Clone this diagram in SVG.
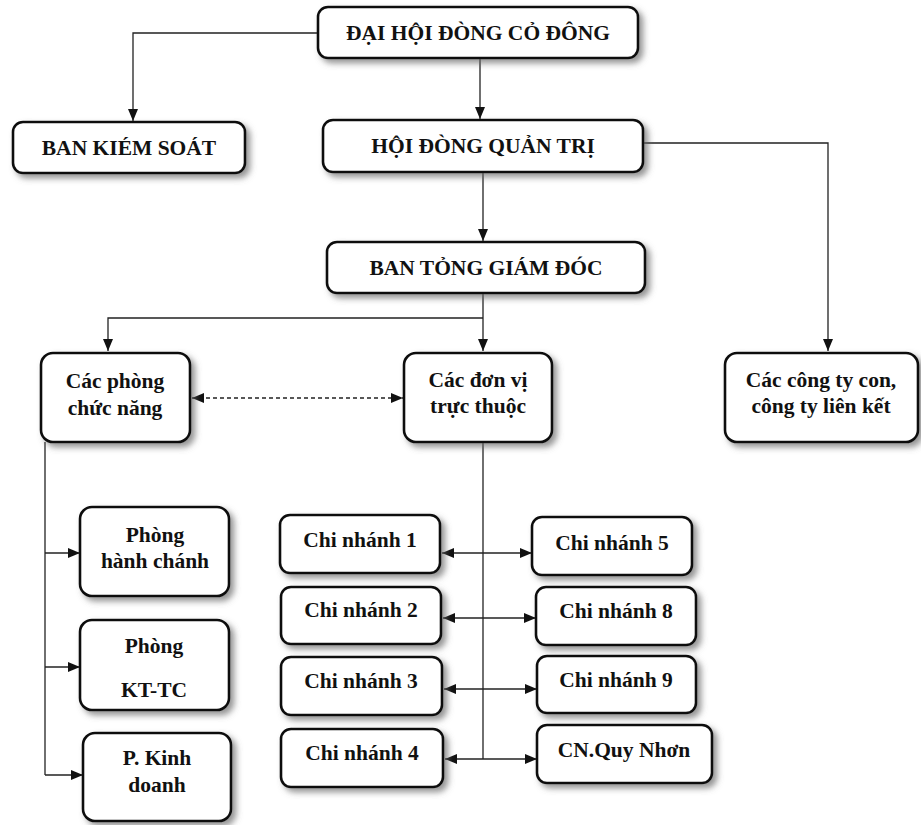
<svg xmlns="http://www.w3.org/2000/svg" width="921" height="825" viewBox="0 0 921 825">
<style>
.box{fill:#fff;stroke:#111;stroke-width:2.6;filter:url(#sh)}
.t{font-family:"Liberation Serif","Times New Roman",serif;font-weight:bold;font-size:21.5px;fill:#111;text-anchor:middle}
.c{fill:none;stroke:#222;stroke-width:1.3}
.d{stroke-dasharray:4 3}
</style>
<defs>
<filter id="sh" x="-10%" y="-20%" width="130%" height="150%">
<feDropShadow dx="4" dy="4" stdDeviation="3" flood-color="#666" flood-opacity="0.7"/>
</filter>
<marker id="ah" markerUnits="userSpaceOnUse" markerWidth="12" markerHeight="10" refX="12" refY="5" orient="auto-start-reverse">
<path d="M0,0 L12,5 L0,10 z" fill="#111"/>
</marker>
</defs>
<rect width="921" height="825" fill="#fff"/>
<g id="connectors">
<path class="c" d="M318,33 H133 V121" marker-end="url(#ah)"/>
<path class="c" d="M480,58 V119" marker-end="url(#ah)"/>
<path class="c" d="M643,143 H828 V351" marker-end="url(#ah)"/>
<path class="c" d="M483,172 V241" marker-end="url(#ah)"/>
<path class="c" d="M483,293 V351" marker-end="url(#ah)"/>
<path class="c" d="M483,318 H108 V351" marker-end="url(#ah)"/>
<path class="c d" d="M192,398 H403" marker-start="url(#ah)" marker-end="url(#ah)"/>
<path class="c" d="M45,442 V775"/>
<path class="c" d="M45,553 H80" marker-end="url(#ah)"/>
<path class="c" d="M45,667 H80" marker-end="url(#ah)"/>
<path class="c" d="M45,775 H83" marker-end="url(#ah)"/>
<path class="c" d="M483,442 V759"/>
<path class="c" d="M442,553 H532" marker-start="url(#ah)" marker-end="url(#ah)"/>
<path class="c" d="M443,618 H536" marker-start="url(#ah)" marker-end="url(#ah)"/>
<path class="c" d="M444,689 H537" marker-start="url(#ah)" marker-end="url(#ah)"/>
<path class="c" d="M445,759 H537" marker-start="url(#ah)" marker-end="url(#ah)"/>
</g>
<g id="n_dhcd"><rect class="box" x="318" y="7" width="320" height="51" rx="10"/><text class="t" x="478" y="40">ĐẠI HỘI ĐÒNG CỎ ĐÔNG</text></g>
<g id="n_bks"><rect class="box" x="13" y="122" width="232" height="51" rx="10"/><text class="t" x="129" y="155">BAN KIÉM SOÁT</text></g>
<g id="n_hdqt"><rect class="box" x="323" y="120" width="320" height="52" rx="10"/><text class="t" x="483" y="153">HỘI ĐÒNG QUẢN TRỊ</text></g>
<g id="n_btgd"><rect class="box" x="327" y="242" width="318" height="51" rx="10"/><text class="t" x="486" y="275">BAN TỎNG GIÁM ĐÓC</text></g>
<g id="n_cpcn"><rect class="box" x="41" y="353" width="149" height="89" rx="12"/><text class="t" x="115" y="388">Các phòng</text><text class="t" x="115" y="415">chức năng</text></g>
<g id="n_cdvtt"><rect class="box" x="404" y="353" width="148" height="89" rx="12"/><text class="t" x="478" y="387">Các đơn vị</text><text class="t" x="478" y="413">trực thuộc</text></g>
<g id="n_ctcon"><rect class="box" x="725" y="353" width="193" height="89" rx="12"/><text class="t" x="821" y="387">Các công ty con,</text><text class="t" x="821" y="413">công ty liên kết</text></g>
<g id="n_phc"><rect class="box" x="80" y="507" width="149" height="89" rx="12"/><text class="t" x="155" y="542">Phòng</text><text class="t" x="155" y="568">hành chánh</text></g>
<g id="n_pkttc"><rect class="box" x="80" y="620" width="149" height="90" rx="12"/><text class="t" x="154" y="653">Phòng</text><text class="t" x="154" y="697">KT-TC</text></g>
<g id="n_pkd"><rect class="box" x="83" y="733" width="148" height="88" rx="12"/><text class="t" x="157" y="765">P. Kinh</text><text class="t" x="157" y="792">doanh</text></g>
<g id="n_cn1"><rect class="box" x="280" y="515" width="160" height="58" rx="10"/><text class="t" x="360" y="547">Chi nhánh 1</text></g>
<g id="n_cn2"><rect class="box" x="281" y="587" width="160" height="57" rx="10"/><text class="t" x="361" y="617">Chi nhánh 2</text></g>
<g id="n_cn3"><rect class="box" x="281" y="657" width="161" height="58" rx="10"/><text class="t" x="361" y="688">Chi nhánh 3</text></g>
<g id="n_cn4"><rect class="box" x="281" y="729" width="162" height="58" rx="10"/><text class="t" x="362" y="760">Chi nhánh 4</text></g>
<g id="n_cn5"><rect class="box" x="532" y="517" width="160" height="58" rx="10"/><text class="t" x="612" y="550">Chi nhánh 5</text></g>
<g id="n_cn8"><rect class="box" x="536" y="587" width="160" height="58" rx="10"/><text class="t" x="616" y="618">Chi nhánh 8</text></g>
<g id="n_cn9"><rect class="box" x="537" y="656" width="159" height="57" rx="10"/><text class="t" x="616" y="687">Chi nhánh 9</text></g>
<g id="n_cnqn"><rect class="box" x="537" y="725" width="175" height="58" rx="10"/><text class="t" x="624" y="757">CN.Quy Nhơn</text></g>
</svg>
